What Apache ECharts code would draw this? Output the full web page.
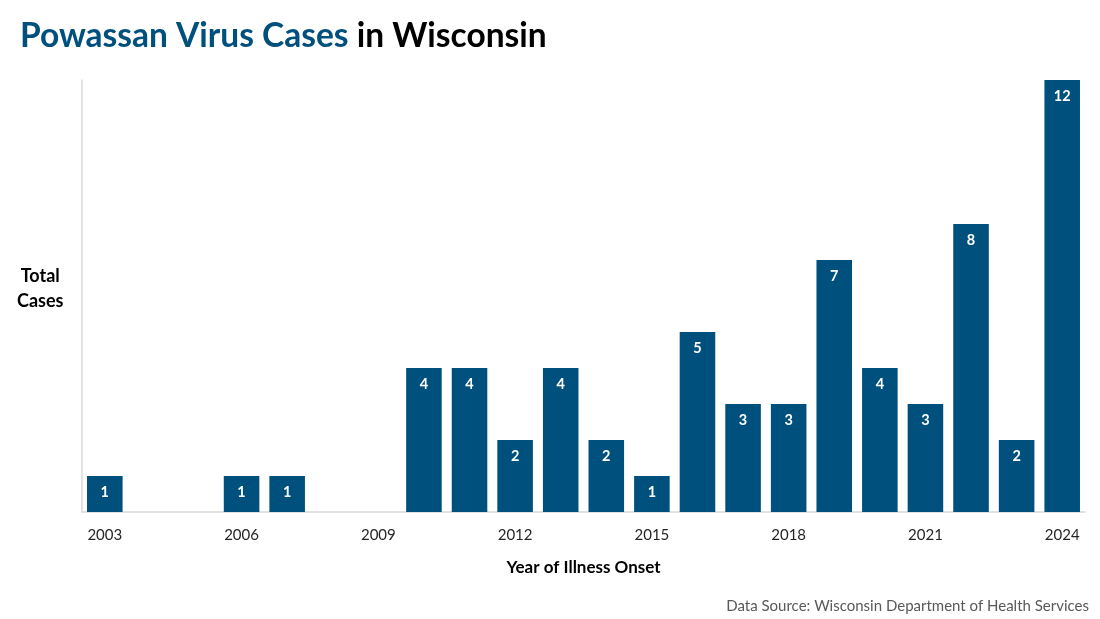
<!DOCTYPE html>
<html>
<head>
<meta charset="utf-8">
<script src="https://cdn.jsdelivr.net/npm/echarts@6/dist/echarts.min.js"></script>
<style>
html,body{margin:0;padding:0;background:#fff;}
#chart{width:1100px;height:619px;}
</style>
</head>
<body>
<div id="chart"></div>
<script>
const years = ['2003','2004','2005','2006','2007','2008','2009','2010','2011','2012','2013','2014','2015','2016','2017','2018','2019','2020','2021','2022','2023','2024'];
const cases = [1,0,0,1,1,0,0,4,4,2,4,2,1,5,3,3,7,4,3,8,2,12];
const titleMain = 'Powassan Virus Cases';
const titleRest = ' in Wisconsin';
const yAxisTitle = 'Total\nCases';
const xAxisTitle = 'Year of Illness Onset';
const sourceNote = 'Data Source: Wisconsin Department of Health Services';

const FONT = 'Lato, "Open Sans", sans-serif';
const BLUE = '#00507D';

const chart = echarts.init(document.getElementById('chart'));
chart.setOption({
  backgroundColor: '#ffffff',
  textStyle: { fontFamily: FONT },
  title: [{
    text: '{a|' + titleMain + '}{b|' + titleRest + '}',
    left: 15, top: 14,
    textStyle: {
      rich: {
        a: { fontFamily: FONT, fontWeight: 'bold', fontSize: 33.5, color: BLUE },
        b: { fontFamily: FONT, fontWeight: 'bold', fontSize: 33.5, color: '#000000' }
      }
    }
  }, {
    text: sourceNote,
    right: 6, top: 594,
    textStyle: { fontFamily: FONT, fontWeight: 'normal', fontSize: 15, color: '#595959' }
  }],
  graphic: [{
    type: 'text',
    left: 17, top: 264,
    style: {
      text: yAxisTitle,
      font: 'bold 18px ' + FONT,
      fill: '#000000',
      textAlign: 'center',
      lineHeight: 25
    }
  }],
  grid: { left: 82, right: 15, top: 80, bottom: 107, containLabel: false },
  xAxis: {
    type: 'category',
    data: years,
    name: xAxisTitle,
    nameLocation: 'middle',
    nameGap: 47,
    nameTextStyle: { fontFamily: FONT, fontWeight: 'bold', fontSize: 17, color: '#000000' },
    axisLine: { show: true, lineStyle: { color: '#d9d9d9', width: 1.5 } },
    axisTick: { show: false },
    axisLabel: { interval: 2, fontSize: 15, color: '#262626', margin: 16, fontFamily: FONT }
  },
  yAxis: {
    type: 'value',
    min: 0, max: 12, interval: 12,
    axisLine: { show: true, lineStyle: { color: '#d9d9d9', width: 1.5 } },
    axisTick: { show: false },
    axisLabel: { show: false },
    splitLine: { show: false }
  },
  series: [{
    type: 'bar',
    data: cases,
    barCategoryGap: '22%',
    itemStyle: { color: BLUE },
    label: {
      show: true,
      position: 'insideTop',
      distance: 9,
      color: '#ffffff',
      fontWeight: 'bold',
      fontSize: 14.5,
      fontFamily: FONT,
      formatter: p => p.value > 0 ? String(p.value) : ''
    },
    silent: true,
    animation: false
  }],
  animation: false
});
</script>
</body>
</html>
